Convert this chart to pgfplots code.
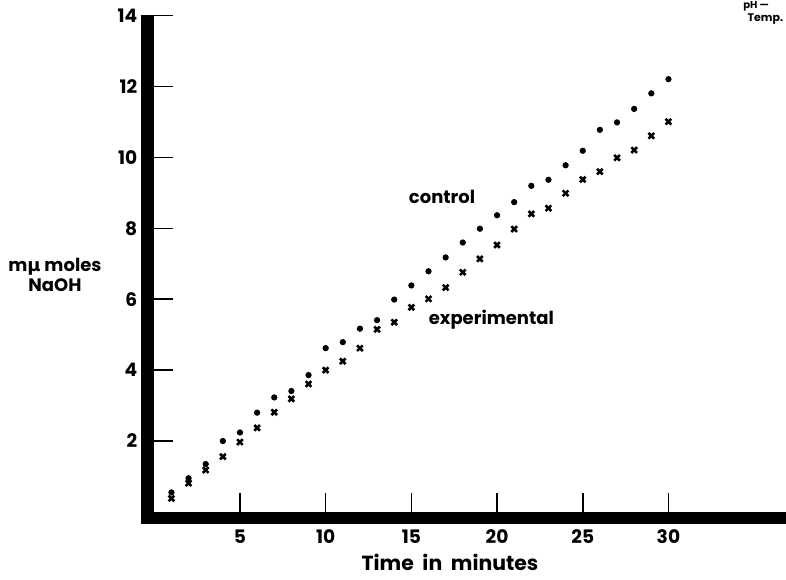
\documentclass[border=0pt]{standalone}
\usepackage{fontspec}
\setmainfont{Poppins}
\newfontfamily\greekfont{DejaVu Sans}
\usepackage{pgfplots}
\pgfplotsset{compat=1.18}

\begin{document}
\begin{tikzpicture}
\useasboundingbox (-77.15pt,-33.55pt) rectangle (315.85pt,255.95pt);
\begin{axis}[
    at={(0,0)}, anchor=south west,
    scale only axis,
    width=315.85pt, height=248.1pt,
    xmin=0, xmax=36.86,
    ymin=0, ymax=14,
    clip=false,
    axis x line*=bottom,
    axis y line*=left,
    axis line style={draw=none},
    xtick={5,10,...,30},
    ytick={2,4,...,14},
    tick align=inside,
    major tick length=9.5pt,
    tick style={black, line width=0.8pt},
    /pgf/number format/assume math mode=true,
    ticklabel style={font=\bfseries\fontsize{9.3}{11}\selectfont},
    xticklabel style={yshift=-5.5pt},
    yticklabel style={xshift=-5pt},
]
\fill[black] ([xshift=-6.5pt]axis cs:0,14.02) rectangle ([yshift=-6pt]axis cs:0,0);
\fill[black] ([xshift=-6.5pt]axis cs:0,0) rectangle ([yshift=-6pt]rel axis cs:1,0);

\addplot[only marks, mark=*, mark size=1.35pt, black] coordinates {
    (1,0.55) (2,0.95) (3,1.35) (4,2.0) (5,2.24) (6,2.80) (7,3.23) (8,3.41)
    (9,3.86) (10,4.62) (11,4.79) (12,5.17) (13,5.41) (14,5.99) (15,6.39)
    (16,6.79) (17,7.18) (18,7.60) (19,7.99) (20,8.37) (21,8.74) (22,9.20)
    (23,9.37) (24,9.78) (25,10.19) (26,10.78) (27,10.99) (28,11.37)
    (29,11.81) (30,12.21)
};
\addplot[only marks, mark=x, mark size=2pt, line width=1.3pt, black] coordinates {
    (1,0.38) (2,0.81) (3,1.18) (4,1.56) (5,1.97) (6,2.37) (7,2.81) (8,3.19)
    (9,3.61) (10,4.0) (11,4.25) (12,4.62) (13,5.15) (14,5.35) (15,5.77)
    (16,6.01) (17,6.33) (18,6.76) (19,7.14) (20,7.53) (21,7.98) (22,8.41)
    (23,8.57) (24,8.99) (25,9.38) (26,9.60) (27,9.99) (28,10.21)
    (29,10.61) (30,11.01)
};

\node[font=\bfseries\fontsize{9}{11}\selectfont] at (axis cs:16.79,8.89) {control};
\node[font=\bfseries\fontsize{9}{11}\selectfont] at (axis cs:19.67,5.43) {experimental};
\node[font=\bfseries\fontsize{10.2}{12}\selectfont] at (axis cs:17.25,-1.43) {Time\ \ in\ \ minutes};
\node[font=\bfseries\fontsize{9}{10}\selectfont, align=center] at (axis cs:-5.8,6.68)
    {m{\greekfont\bfseries μ} moles\\NaOH};
\node[font=\bfseries\fontsize{5}{6}\selectfont, anchor=west, inner sep=0pt] at (axis cs:34.35,14.27) {pH ---};
\node[font=\bfseries\fontsize{5.5}{6}\selectfont, anchor=west, inner sep=0pt] at (axis cs:34.6,13.9) {Temp.};
\end{axis}
\end{tikzpicture}
\end{document}
